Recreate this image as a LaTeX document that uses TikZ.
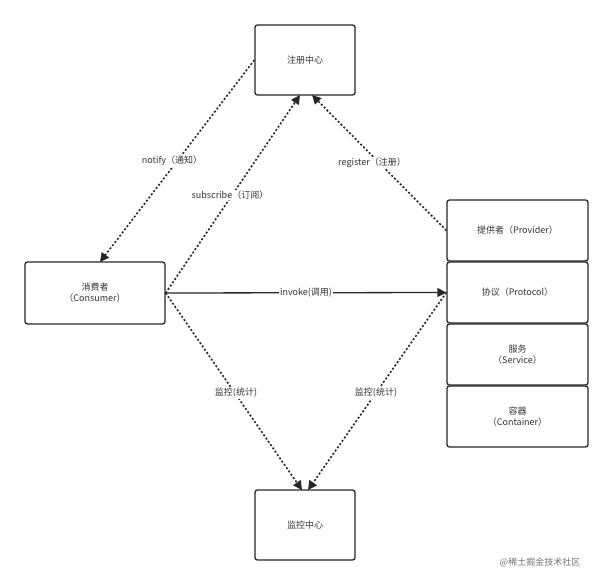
\documentclass[tikz,border=0pt]{standalone}
\usepackage{fontspec}
\setmainfont{Noto Sans CJK SC}
\usetikzlibrary{arrows.meta}
\begin{document}
\begin{tikzpicture}[x=1pt,y=-1pt,
  box/.style={draw=black!85,line width=1.3pt,rounded corners=2.5pt,minimum width=#1,align=center,font=\fontsize{9}{11}\selectfont,text=black!80},
  box/.default=100pt,
  dotline/.style={line width=1.6pt,dash pattern=on 2pt off 2pt,black!85,-{Triangle[length=9pt,width=9pt]}},
  lab/.style={font=\fontsize{9}{11}\selectfont,text=black!80,fill=white,inner sep=1pt}]
\useasboundingbox (0,0) rectangle (613,586);
\node[box=100pt,minimum height=70pt] (reg) at (305,60) {注册中心};
\node[box=100pt,minimum height=70pt] (mon) at (305,525) {监控中心};
\node[box=140pt,minimum height=62pt] (con) at (95,293) {消费者\\（Consumer）};
\node[box=141pt,minimum height=61pt] (prov) at (517.5,230.5) {提供者（Provider）};
\node[box=141pt,minimum height=61pt] (prot) at (517.5,292.5) {协议（Protocol）};
\node[box=141pt,minimum height=61pt] (serv) at (517.5,354.5) {服务\\（Service）};
\node[box=141pt,minimum height=61pt] (cont) at (517.5,416.5) {容器\\（Container）};
\draw[dotline] (reg.west |- 0,60) -- (100,262) coordinate (c1);
\draw[dotline] (con.east) -- (300,95);
\draw[dotline] (prov.west) -- (312,95);
\draw[line width=1.3pt,black!85,-{Triangle[length=9pt,width=9pt]}] (con.east) -- node[lab]{invoke(调用)} (prot.west);
\draw[dotline] (con.east) -- (302,490);
\draw[dotline] (prot.west) -- (308,490);
\node[lab] (l1) at (172,161) {notify（通知）};
\node[lab] (l2) at (230,195) {subscribe（订阅）};
\node[lab] (l3) at (372,163) {register（注册）};
\node[lab] (l4) at (236,393) {监控(统计)};
\node[lab] (l5) at (376,393) {监控(统计)};
\node[font=\fontsize{9}{11}\selectfont,text=black!55] (wm) at (540,562) {@稀土掘金技术社区};
\end{tikzpicture}
\end{document}
